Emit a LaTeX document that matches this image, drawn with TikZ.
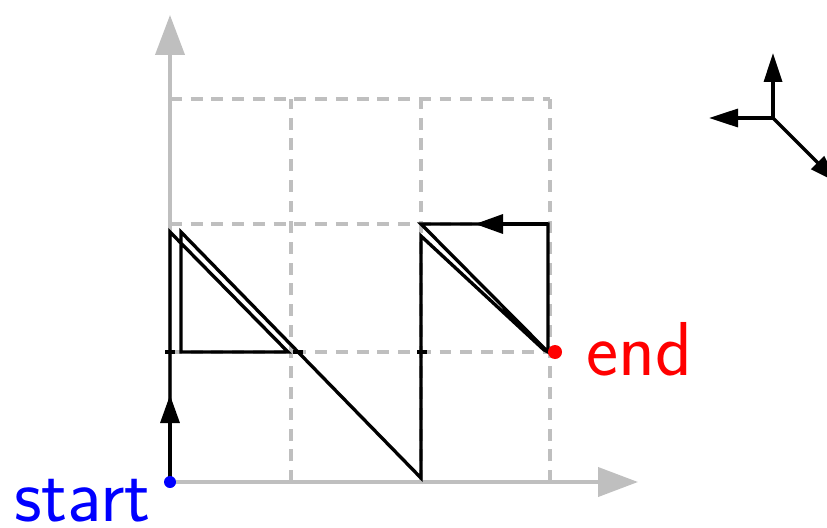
\documentclass[tikz,border=0pt]{standalone}
\usetikzlibrary{arrows.meta}
\begin{document}
\begin{tikzpicture}[
        x=0.02cm, y=-0.02cm,
        axis/.style={draw=gray!50, line width=2.3pt, -{Triangle[length=0.8cm, width=0.58cm]}},
        gridline/.style={draw=gray!50, line width=1.8pt, dash pattern=on 6.8pt off 5pt},
        route/.style={draw=black, line width=1.9pt},
        midtip/.style={route, -{Triangle[length=0.56cm, width=0.38cm]}},
        frame/.style={route, -{Triangle[length=0.58cm, width=0.36cm]}},
        lbl/.style={font=\sffamily\fontsize{43.5}{52}\selectfont, inner sep=0pt}
    ]
        \useasboundingbox (0,0) rectangle (827,527);

        % grid
        \foreach \gx in {291,421,550} \draw[gridline] (\gx,482) -- (\gx,99);
        \foreach \gy in {99,224,352} \draw[gridline] (170,\gy) -- (550,\gy);

        % axes
        \coordinate (origin) at (170,482);
        \draw[axis] (origin) -- (170,15);
        \draw[axis] (origin) -- (638,482);

        % route points
        \coordinate (start) at (170,482);
        \coordinate (rise) at (170,232);
        \coordinate (ic) at (288,352);
        \coordinate (ib) at (181,352);
        \coordinate (ia) at (181,232);
        \coordinate (low) at (421,478);
        \coordinate (back) at (421,236);
        \coordinate (near) at (544,350);
        \coordinate (end) at (548,352);
        \coordinate (corner) at (548,224);
        \coordinate (top) at (421,224);

        \draw[route] (start) -- (rise) -- (ic) -- (ib) -- (ia) -- (low) -- (back)
            -- (near) -- (end) -- (corner) -- (top) -- (end);
        \draw[midtip] (start) -- (170,395);
        \draw[midtip] (corner) -- (475,224);
        \foreach \tx in {170,298,422} \draw[route] (\tx-5,352) -- (\tx+5,352);

        % end points
        \fill[blue] (start) circle[radius=0.12cm];
        \fill[red] (555,352) circle[radius=0.14cm];
        \node[lbl, text=blue, anchor=base east] (startlbl) at (151,521) {start};
        \node[lbl, text=red, anchor=base west] (endlbl) at (586,375) {end};

        % frame symbol
        \coordinate (ax) at (773,118);
        \draw[frame] (ax) -- (773,53);
        \draw[frame] (ax) -- (709,118);
        \draw[frame] (ax) -- (838,183);
    \end{tikzpicture}
\end{document}
